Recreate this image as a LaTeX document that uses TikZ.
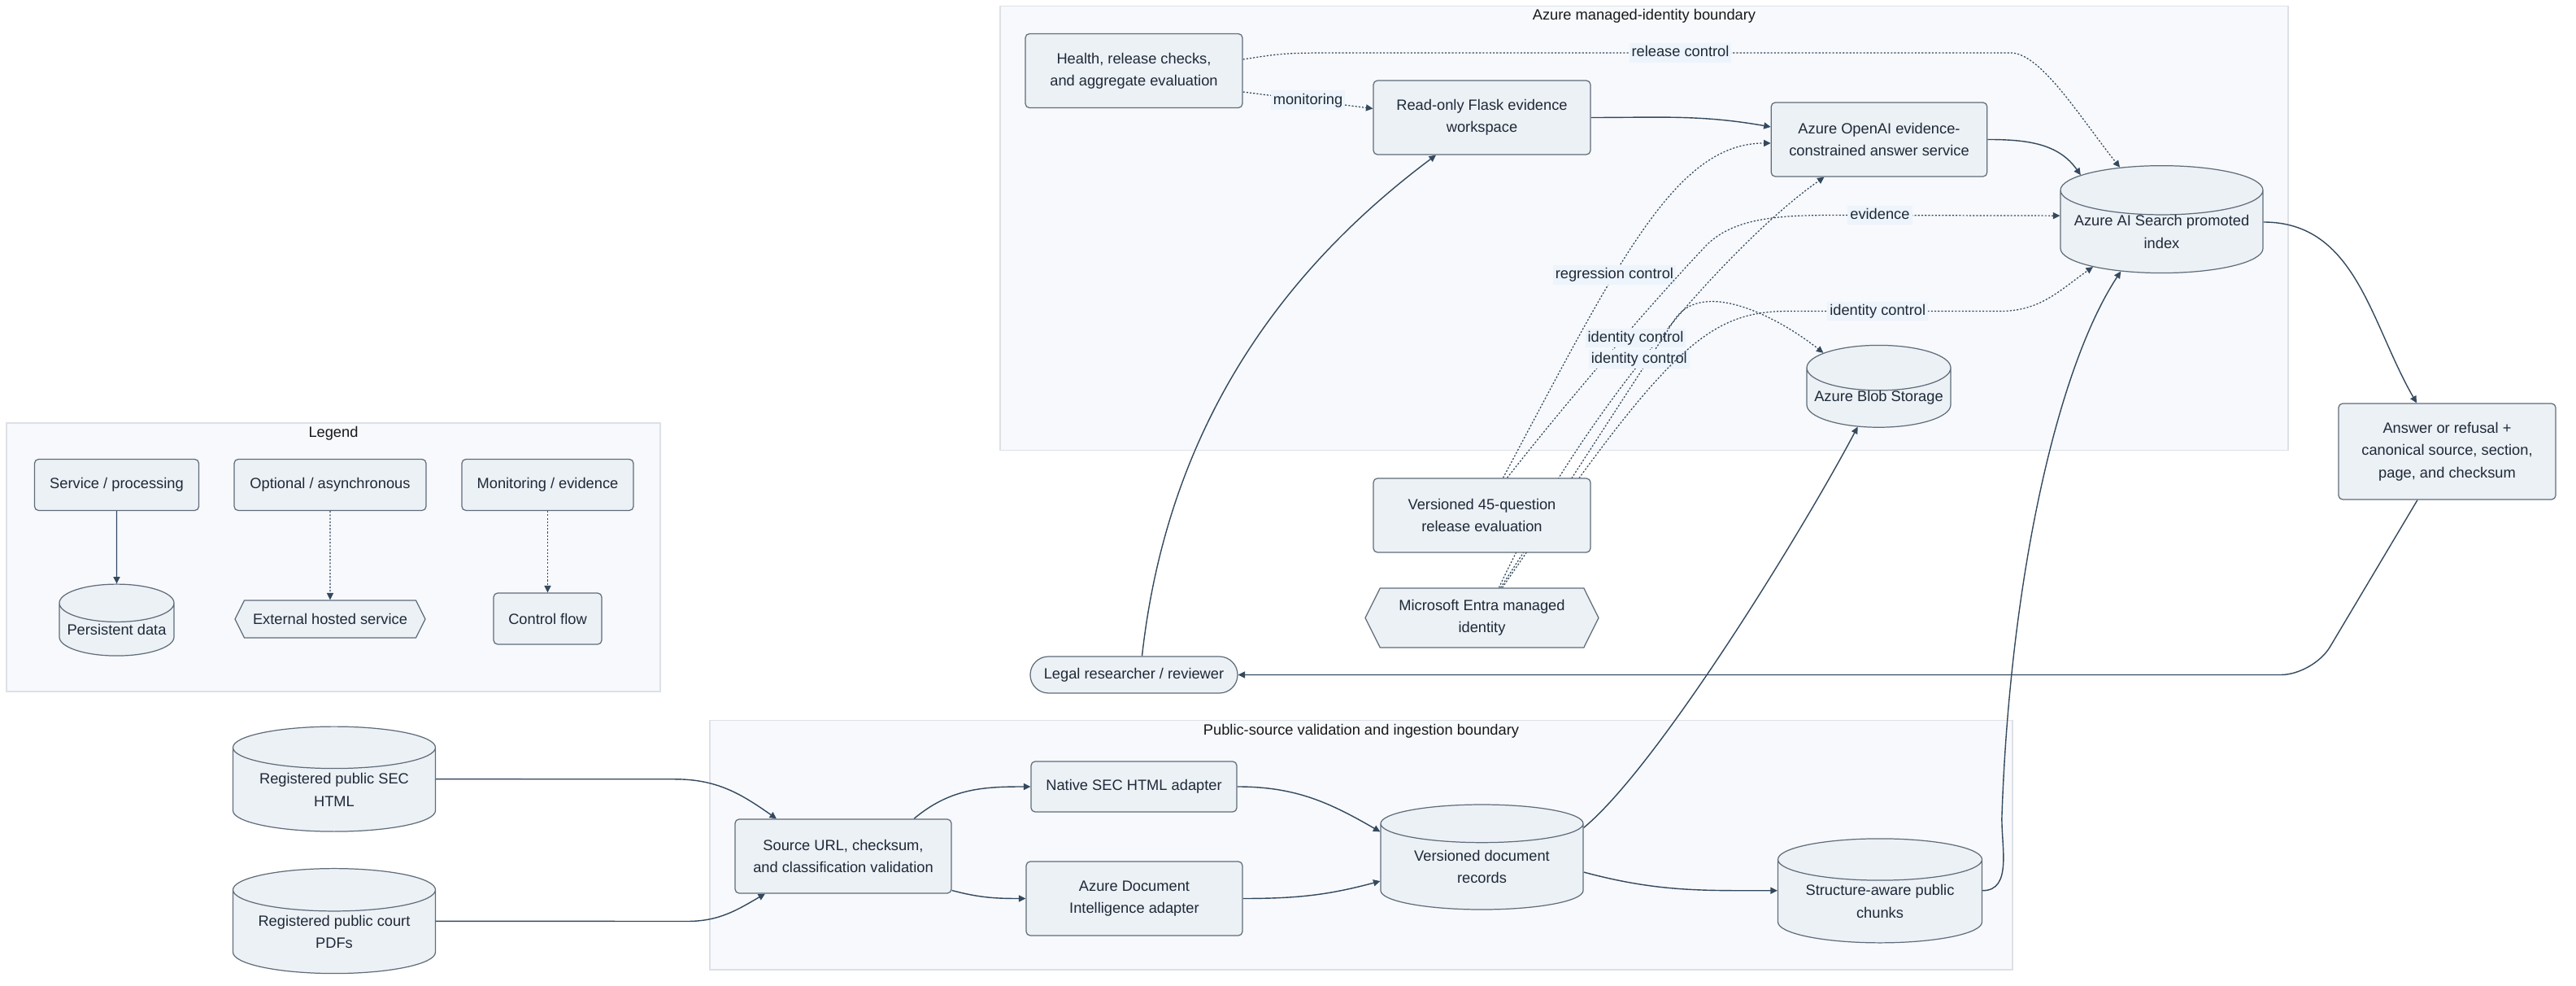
\documentclass[tikz,border=0pt]{standalone}
\usepackage{fontspec}
\setmainfont{Liberation Sans}
\usetikzlibrary{arrows.meta,shapes.geometric,shapes.symbols}

\definecolor{boxfill}{RGB}{236,241,246}
\definecolor{boxline}{RGB}{96,108,122}
\definecolor{linkcol}{RGB}{52,73,94}
\definecolor{zonefill}{RGB}{247,249,252}
\definecolor{zoneline}{RGB}{221,225,230}
\definecolor{tagfill}{RGB}{237,244,252}
\definecolor{ink}{RGB}{31,41,55}

\newcommand\boxfont{\fontsize{5.2pt}{7.8pt}\selectfont}

\pgfdeclarelayer{zones}
\pgfdeclarelayer{links}
\pgfsetlayers{zones,links,main}

\tikzset{
  proc/.style={rectangle, rounded corners=.5mm, draw=boxline, fill=boxfill,
    line width=.35pt, text=ink, font=\boxfont, align=center, inner sep=0pt},
  store/.style={proc, cylinder, shape border rotate=90, sharp corners, aspect=.28},
  hosted/.style={proc, signal, signal to=west and east, signal pointer angle=127, sharp corners},
  actor/.style={proc, rounded corners=2.25mm},
  zone/.style={rectangle, draw=zoneline, fill=zonefill, line width=.45pt, inner sep=0pt},
  zonetitle/.style={text=black!90, font=\boxfont, inner sep=0pt},
  tag/.style={fill=tagfill, text=ink, font=\boxfont, inner xsep=.3mm, inner ysep=.3mm,
    text height=3.9pt, text depth=1.15pt},
  flow/.style={draw=linkcol, line width=.4pt, -{Triangle[length=2.4pt,width=2.3pt]}},
  dotlink/.style={flow, line width=.35pt, dash pattern=on .6pt off .6pt}
}

\begin{document}
\begin{tikzpicture}
  \useasboundingbox (0,0) rectangle (31.68,12.12);

  \begin{pgfonlayer}{zones}
    \node[zone, minimum width=15.84cm, minimum height=5.46cm]  (azurezone)  at (20.22,9.315)  {};
    \node[zone, minimum width=8.04cm,  minimum height=3.30cm]  (legendzone) at (4.10,5.27)    {};
    \node[zone, minimum width=16.02cm, minimum height=3.065cm] (publiczone) at (16.74,1.7325) {};
  \end{pgfonlayer}

  \node[zonetitle] (azuretitle)  at (20.22,11.92) {Azure managed-identity boundary};
  \node[zonetitle] (legendtitle) at (4.10,6.79)   {Legend};
  \node[zonetitle] (publictitle) at (16.74,3.13)  {Public-source validation and ingestion boundary};

  % legend
  \node[proc, minimum width=2.02cm, minimum height=.63cm] (svc) at (1.435,6.16) {Service / processing};
  \node[proc, minimum width=2.36cm, minimum height=.63cm] (opt) at (4.06,6.16)  {Optional / asynchronous};
  \node[proc, minimum width=2.11cm, minimum height=.63cm] (mon) at (6.735,6.16) {Monitoring / evidence};
  \node[store, aspect=.38, minimum width=1.41cm, minimum height=.88cm] (persist) at (1.435,4.38) {Persistent data};
  \node[hosted, minimum width=2.34cm, minimum height=.46cm] (ext) at (4.06,4.51) {External hosted service};
  \node[proc, minimum width=1.33cm, minimum height=.63cm] (ctl) at (6.735,4.515) {Control flow};

  % sources and ingestion
  \node[store, minimum width=2.49cm, minimum height=1.29cm] (sechtml)  at (4.11,2.412) {Registered public SEC\\HTML};
  \node[store, minimum width=2.49cm, minimum height=1.29cm] (courtpdf) at (4.11,0.665) {Registered public court\\PDFs};
  \node[proc, minimum width=2.66cm, minimum height=.91cm] (source) at (10.37,1.595) {Source URL, checksum,\\and classification validation};
  \node[proc, minimum width=2.53cm, minimum height=.62cm] (native) at (13.945,2.45) {Native SEC HTML adapter};
  \node[proc, minimum width=2.66cm, minimum height=.91cm] (docint) at (13.95,1.075) {Azure Document\\Intelligence adapter};
  \node[store, minimum width=2.49cm, minimum height=1.29cm] (records) at (18.225,1.465) {Versioned document\\records};
  \node[store, minimum width=2.51cm, minimum height=1.28cm] (chunks)  at (23.12,1.04)   {Structure-aware public\\chunks};

  % managed-identity side
  \node[proc, minimum width=2.67cm, minimum height=.91cm] (health) at (13.945,11.25) {Health, release checks,\\and aggregate evaluation};
  \node[proc, minimum width=2.67cm, minimum height=.91cm] (flask)  at (18.225,10.675) {Read-only Flask evidence\\workspace};
  \node[proc, minimum width=2.655cm, minimum height=.91cm] (openai) at (23.11,10.405) {Azure OpenAI evidence-\\constrained answer service};
  \node[store, minimum width=2.49cm, minimum height=1.29cm] (search) at (26.585,9.27) {Azure AI Search promoted\\index};
  \node[store, aspect=.35, minimum width=1.77cm, minimum height=.94cm] (blob) at (23.105,7.23) {Azure Blob Storage};
  \node[proc, minimum width=2.67cm, minimum height=1.18cm] (answer) at (30.095,6.57) {Answer or refusal +\\canonical source, section,\\page, and checksum};
  \node[proc, minimum width=2.67cm, minimum height=.91cm] (evalq) at (18.225,5.785) {Versioned 45-question\\release evaluation};
  \node[hosted, minimum width=2.87cm, minimum height=.73cm] (entra) at (18.225,4.525) {Microsoft Entra managed\\identity};
  \node[actor, minimum width=2.55cm, minimum height=.45cm] (legal) at (13.945,3.825) {Legal researcher / reviewer};

  \begin{pgfonlayer}{links}
    % legend samples
    \path (svc) edge[flow] (persist);
    \path (opt) edge[dotlink] (ext);
    \path (mon) edge[dotlink] (ctl);

    % ingestion
    \draw[flow] (sechtml.6) -- (8.3,2.542) to[out=0,in=145] ([xshift=-8.2mm]source.north);
    \draw[flow] (courtpdf.6) -- (8.45,0.795) to[out=0,in=210] ([xshift=-9.6mm]source.south);
    \draw[flow] ([xshift=8.7mm]source.north) to[out=40,in=180] (native.west);
    \draw[flow] ([yshift=-4.2mm]source.east) to[out=-15,in=180] (docint.west);
    \draw[flow] (native.east) to[out=0,in=150] (records.161);
    \draw[flow] (docint.east) to[out=0,in=195] (records.188);
    \draw[flow] (records.-3) to[out=-15,in=180] (chunks.174);
    \draw[flow] (records.21) .. controls (20.38,2.69) and (22.15,5.56) .. (blob.234);
    \draw[flow] (chunks.6) to[out=0,in=-92] (24.62,2.1) .. controls (24.72,5.0) and (25.3,7.6) .. (search.224);

    % answer loop
    \draw[flow] (flask.east) to[out=0,in=170] ([yshift=1.55mm]openai.west);
    \draw[flow] (openai.east) to[out=0,in=125] (search.145);
    \draw[flow] ([yshift=1.2mm]search.east) to[out=0,in=120] ([xshift=-3.75mm]answer.north);
    \draw[flow, rounded corners=4mm] ([xshift=-3.65mm]answer.south) -- (28.45,3.825) -- (legal.east);
    \draw[flow] ([xshift=1mm]legal.north) .. controls (14.35,6.8) and (15.7,8.75) .. ([xshift=-5.65mm]flask.south);

    % monitoring and control
    \draw[dotlink] ([yshift=-2.6mm]health.east) -- node[tag] (lblmon) {monitoring} ([yshift=1.1mm]flask.west);
    \draw[dotlink] ([yshift=1.4mm]health.east) .. controls (15.8,11.47) .. (16.6,11.47)
      -- node[tag] (lblrel) {release control} (24.73,11.47)
      .. controls (25.1,11.47) and (25.6,10.65) .. (search.123);
    \draw[dotlink] ([xshift=2.6mm]evalq.north) .. controls (19.9,8.9) and (20.6,10.36)
      .. node[tag, pos=.38] (lblreg) {regression control} ([yshift=-.45mm]openai.west);
    \draw[dotlink] ([xshift=3.1mm]evalq.north) .. controls (19.4,7.35) and (20.5,8.6) .. (21.0,9.12)
      .. controls (21.35,9.45) and (21.9,9.475) .. (22.6,9.475)
      -- node[tag, pos=.19] (lblevi) {evidence} (search.171);
    \draw[dotlink] ([xshift=2.1mm]entra.north) .. controls (19.4,7.0) and (21.3,9.15)
      .. node[tag, pos=.51, xshift=-3mm] (lblida) {identity control} ([xshift=-6.75mm]openai.south);
    \draw[dotlink] ([xshift=2.3mm]entra.north) -- node[tag, pos=.85, xshift=-1.2mm] (lblidb) {identity control} (20.6,8.2)
      .. controls (20.95,8.7) and (21.87,8.22) .. (blob.141);
    \draw[dotlink] ([xshift=2.5mm]entra.north) .. controls (20.5,7.85) and (21.0,8.295) .. (22.0,8.295)
      -- node[tag, pos=.42] (lblidc) {identity control} (24.6,8.295) to[out=0,in=215] (search.207);
  \end{pgfonlayer}
\end{tikzpicture}
\end{document}
